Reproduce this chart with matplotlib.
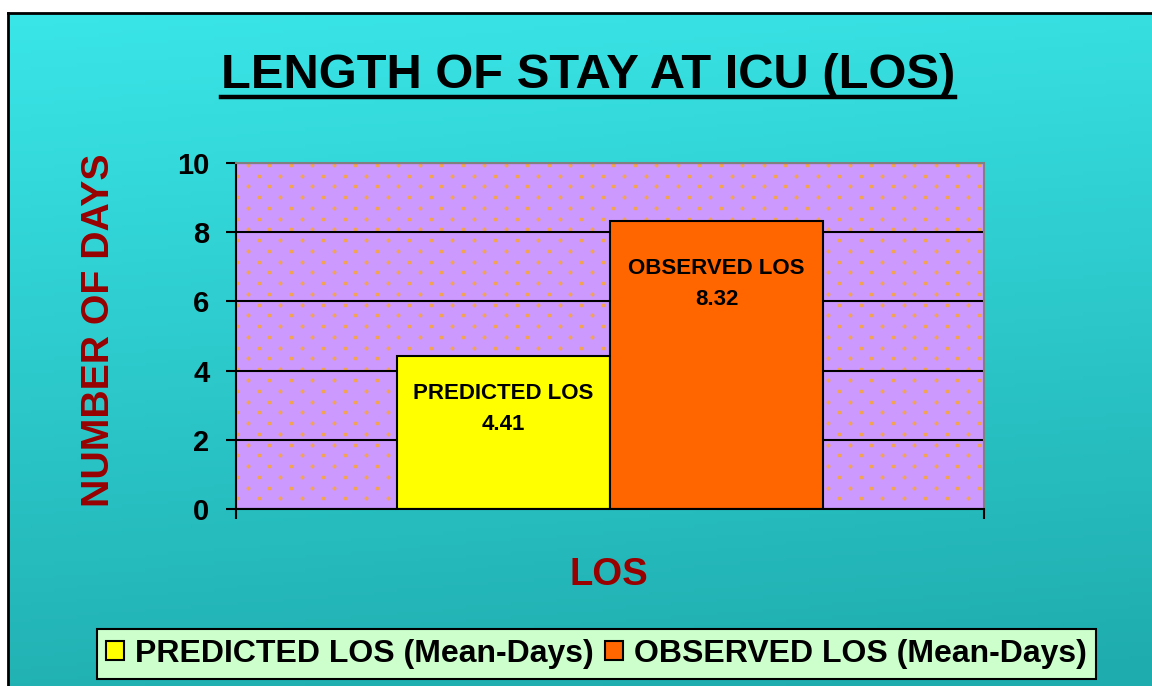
import numpy as np
import matplotlib
matplotlib.use("Agg")
import matplotlib.pyplot as plt
from matplotlib.patches import Rectangle, Patch
from matplotlib.lines import Line2D

# ---- data ----
series_names = ["PREDICTED LOS", "OBSERVED LOS"]
legend_labels = ["PREDICTED LOS (Mean-Days)", "OBSERVED LOS (Mean-Days)"]
values = [4.41, 8.32]
bar_colors = ["#ffff00", "#ff6600"]
yticks = [0, 2, 4, 6, 8, 10]
title = "LENGTH OF STAY AT ICU (LOS)"
xlabel = "LOS"
ylabel = "NUMBER OF DAYS"

plt.rcParams['font.family'] = ['Liberation Sans', 'DejaVu Sans']

W, H = 1152, 686
fig = plt.figure(figsize=(W / 100, H / 100), dpi=100)
fig.patch.set_facecolor("white")

# background gradient panel with border
bg = fig.add_axes([8 / W, 0, 1 - 8 / W, 1 - 13 / H], zorder=-10)
ny = 200
t = np.linspace(0, 1, ny)[:, None]
s = np.linspace(0, 1, 50)[None, :]
top = np.array([0x3a, 0xe6, 0xe8]) / 255
bot = np.array([0x1f, 0xac, 0xae]) / 255
mix = np.clip(t * 0.9 + s * 0.12, 0, 1)[..., None]
img = top * (1 - mix) + bot * mix
bg.imshow(img, aspect='auto', extent=[0, 1, 0, 1], origin='upper')
bg.set_xticks([]); bg.set_yticks([])
for k, sp in bg.spines.items():
    sp.set_color("black"); sp.set_linewidth(2)
bg.spines['right'].set_visible(False)
bg.spines['bottom'].set_visible(False)

# main axes
L, R, B, T = 236, 984, 509, 163
pw, ph = R - L, B - T
ax = fig.add_axes([L / W, 1 - B / H, pw / W, ph / H])
ax.set_facecolor("#cc99ff")

# dotted background texture (decoration, in axes pixel units)
dx, dy = 21.5, 10.75
pts = []
for i, yy in enumerate(np.arange(2, ph, dy)):
    x0 = 11.7 if i % 2 == 0 else 1.0
    for xx in np.arange(x0, pw, dx):
        pts.append((xx / pw, 1 - yy / ph))
pts = np.array(pts)
ax.scatter(pts[:, 0], pts[:, 1], s=8, color="#f2a450", linewidths=0,
           transform=ax.transAxes, zorder=0.2, clip_on=True)

width = 0.285
x = np.arange(len(values)) * width - width / 2
bars = ax.bar(x, values, width=width, color=bar_colors, edgecolor="black",
              linewidth=1.5, zorder=2)
ax.set_xlim(-0.5, 0.5)
ax.set_ylim(0, 10)
ax.set_yticks(yticks)
ax.set_xticks([-0.5, 0.5])
ax.set_xticklabels(["", ""])
ax.yaxis.grid(True, color="black", linewidth=1.5)
for gl in ax.get_ygridlines():
    gl.set_zorder(1)
ax.tick_params(axis='y', direction='out', length=7, width=1.5, labelsize=21, pad=12)
ax.tick_params(axis='x', direction='out', length=7, width=1.5)
for lab in ax.get_yticklabels():
    lab.set_fontweight('bold')
ax.spines['left'].set_linewidth(1.5)
ax.spines['bottom'].set_linewidth(1.5)
ax.spines['top'].set_color('#808080')
ax.spines['right'].set_color('#808080')
ax.spines['top'].set_linewidth(1.5)
ax.spines['right'].set_linewidth(1.5)
for sp in ax.spines.values():
    sp.set_zorder(3)

# bar labels
offsets = [-19.5, -26.5]
for b, name, v, off in zip(bars, series_names, values, offsets):
    ax.annotate(f"{name}\n{v:.2f}", (b.get_x() + b.get_width() / 2, v),
                xytext=(0, off), textcoords='offset points', ha='center', va='top',
                fontsize=16, fontweight='bold', linespacing=1.6, zorder=4)

ax.set_ylabel(ylabel, fontsize=28.3, fontweight='bold', color="#990000")
ax.yaxis.set_label_coords(-0.159, 0.517)
ax.set_xlabel(xlabel, fontsize=27.5, fontweight='bold', color="#990000")
ax.xaxis.set_label_coords(0.499, -0.139)

# title with underline
tt = fig.text(588 / W, 1 - 75 / H, title, ha='center', va='center',
              fontsize=35.2, fontweight='bold', color='black')
fig.canvas.draw()
bb = tt.get_window_extent()
uy = 1 - 97 / H
fig.add_artist(Line2D([bb.x0 / W, bb.x1 / W], [uy, uy], color='black',
                      linewidth=3.2, transform=fig.transFigure))

# legend
handles = [Patch(facecolor=c, edgecolor='black', linewidth=1.5) for c in bar_colors]
leg = fig.legend(handles, legend_labels, loc='center', ncol=2,
                 bbox_to_anchor=(596.5 / W, 1 - 654 / H),
                 prop={'size': 23, 'weight': 'bold'}, frameon=True, fancybox=False,
                 facecolor="#ccffcc", edgecolor='black', framealpha=1,
                 handlelength=0.55, handleheight=0.55, handletextpad=0.35,
                 columnspacing=0.35, borderpad=0.3, borderaxespad=0)
leg.get_frame().set_linewidth(1.5)

fig.savefig("out.png", dpi=100)
